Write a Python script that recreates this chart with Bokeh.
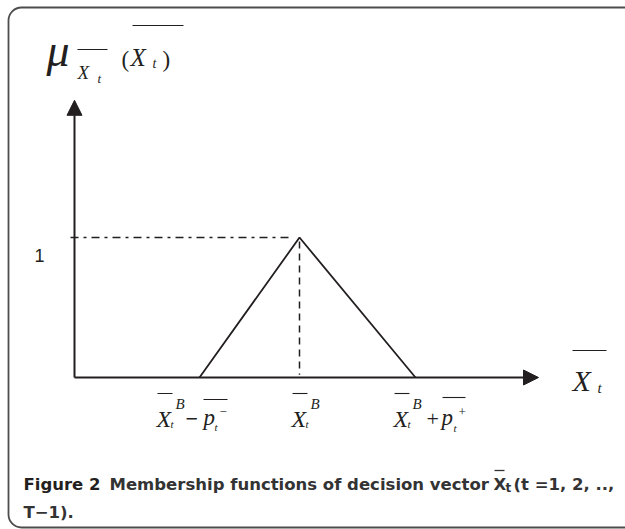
from bokeh.plotting import figure
from bokeh.models import Range1d, Arrow, NormalHead
from bokeh.core.properties import value
from bokeh.embed import file_html
from bokeh.resources import INLINE

# ---------------- data ----------------
x_B = 0.0            # centre of the triangular membership function
p_minus = 1.0        # left spread
p_plus = 1.16        # right spread
mu_peak = 1.0
x_points = [x_B - p_minus, x_B, x_B + p_plus]
mu_points = [0.0, mu_peak, 0.0]
axis_x_origin = -2.25
axis_x_end = 2.39
axis_y_end = 1.98
y_tick_value = 1.0
y_tick_label = "1"

# ---------------- layout ----------------
W, H = 625, 529
PAGE = 0
SX, SY = 100.0, 140.0     # px per data unit
X0C, Y0C = 299.0, 377.0   # canvas px of x=0 / mu=0
INK = "#231f20"
SERIF = "Liberation Serif"
CAPFONT = "DejaVu Sans"


def px2x(px):
    return (px - PAGE - X0C) / SX


def py2y(py):
    return (Y0C - (py - PAGE)) / SY


p = figure(width=W, height=H, output_backend="svg", toolbar_location=None,
           x_range=Range1d(-X0C / SX, (W - X0C) / SX),
           y_range=Range1d(-(H - Y0C) / SY, Y0C / SY),
           min_border=0, outline_line_color=None)
p.axis.visible = False
p.grid.visible = False
p.background_fill_color = "white"
p.border_fill_color = "white"

# frame
FRAME = dict(line_color="#4d4d4d", line_width=1.8, fill_color=None)
try:
    p.quad(left=[px2x(8)], right=[px2x(660)], top=[py2y(7)], bottom=[py2y(527)],
           border_radius=13, **FRAME)
except Exception:
    p.quad(left=[px2x(8)], right=[px2x(660)], top=[py2y(7)], bottom=[py2y(527)], **FRAME)

# axes with arrow heads
for xs, ys, xe, ye in [(axis_x_origin, 0, axis_x_end, 0),
                       (axis_x_origin, 0, axis_x_origin, axis_y_end)]:
    p.add_layout(Arrow(x_start=xs, y_start=ys, x_end=xe, y_end=ye,
                       line_color=INK, line_width=2,
                       end=NormalHead(size=15, fill_color=INK, line_color=INK, line_width=1)))

# membership triangle
p.line(x_points, mu_points, line_color=INK, line_width=1.8)
# dash-dot level line at mu = 1
p.line([axis_x_origin - 4 / SX, x_B - 6 / SX], [y_tick_value, y_tick_value],
       line_color=INK, line_width=1.5, line_dash="8 5 3 5")
# dashed vertical
p.line([x_B, x_B], [mu_peak - 4 / SY, 0.02], line_color=INK, line_width=1.5, line_dash="7 5")


def txt(x, y, s, size, style="italic", font=SERIF, color=INK, align="left", baseline="alphabetic"):
    p.text(x=[x], y=[y], text=[s], text_font=value(font), text_font_style=style,
           text_font_size=f"{size}px", text_color=color, text_align=align,
           text_baseline=baseline)


def bar(x0, x1, py, width=1.2, color=INK):
    p.segment(x0=[px2x(x0)], y0=[py2y(py)], x1=[px2x(x1)], y1=[py2y(py)],
              line_color=color, line_width=width)


# y tick label "1"
txt(px2x(34), py2y(255), y_tick_label, 18, style="normal", font="Liberation Sans")

# top label  mu_{X_t}(X_t)
txt(px2x(46), py2y(50), "\u03bc", 46)
txt(px2x(77), py2y(72), "X", 19)
txt(px2x(97), py2y(78), "t", 13)
bar(77, 107, 49)
txt(px2x(121), py2y(59), "(", 23, style="normal")
txt(px2x(130), py2y(57), "X", 25)
txt(px2x(152), py2y(63), "t", 14)
txt(px2x(162), py2y(59), ")", 23, style="normal")
bar(132, 183, 25)


# x tick labels (built relative to the data points)
def xb_piece(anchor_x, dx):
    return anchor_x + dx / SX


def x_bar_t_B(anchor, dx_left):
    # X with bar, superscript B, subscript t ; dx_left is offset of X from anchor in px
    txt(xb_piece(anchor, dx_left), py2y(418), "X", 24)
    p.segment(x0=[xb_piece(anchor, dx_left + 1)], y0=[py2y(393)],
              x1=[xb_piece(anchor, dx_left + 16)], y1=[py2y(393)], line_color=INK, line_width=1.1)
    txt(xb_piece(anchor, dx_left + 19), py2y(403), "B", 15)
    txt(xb_piece(anchor, dx_left + 14), py2y(423), "t", 11)


# left foot: X_t^B - p_t^-
a = x_points[0]
x_bar_t_B(a, -43)
txt(xb_piece(a, -14), py2y(418), "\u2212", 22, style="bold")
txt(xb_piece(a, 4), py2y(417), "p", 23)
p.segment(x0=[xb_piece(a, 4)], y0=[py2y(399)], x1=[xb_piece(a, 28)], y1=[py2y(399)],
          line_color=INK, line_width=1.1)
txt(xb_piece(a, 20), py2y(411), "\u2212", 13, style="normal")
txt(xb_piece(a, 15), py2y(426), "t", 11)

# peak: X_t^B
b = x_points[1]
x_bar_t_B(b, -8)

# right foot: X_t^B + p_t^+
c = x_points[2]
x_bar_t_B(c, -22)
txt(xb_piece(c, 11), py2y(418), "+", 22, style="normal")
txt(xb_piece(c, 26), py2y(417), "p", 23)
p.segment(x0=[xb_piece(c, 27)], y0=[py2y(397)], x1=[xb_piece(c, 50)], y1=[py2y(397)],
          line_color=INK, line_width=1.1)
txt(xb_piece(c, 43), py2y(411), "+", 13, style="normal")
txt(xb_piece(c, 38), py2y(427), "t", 11)

# x axis label X_t with bar
txt(px2x(572), py2y(380), "X", 30)
txt(px2x(597), py2y(387), "t", 15)
bar(572, 606, 350)

# caption
CAP = "#333333"
txt(px2x(23), py2y(484), "Figure 2", 16.5, style="bold", font=CAPFONT, color=INK)
txt(px2x(109), py2y(484), "Membership functions of decision vector", 16.5, style="bold",
    font=CAPFONT, color=CAP)
txt(px2x(493), py2y(484), "X", 16.5, style="bold", font=CAPFONT, color=CAP)
bar(494, 504, 470, 1.3, CAP)
txt(px2x(505), py2y(487), "t", 12, style="bold", font=CAPFONT, color=CAP)
txt(px2x(513), py2y(484), "(t =1, 2, .., ", 16.5, style="bold", font=CAPFONT, color=CAP)
txt(px2x(23), py2y(512), "T\u22121).", 16.5, style="bold", font=CAPFONT, color=CAP)

open("out.html", "w").write(file_html(p, INLINE))
